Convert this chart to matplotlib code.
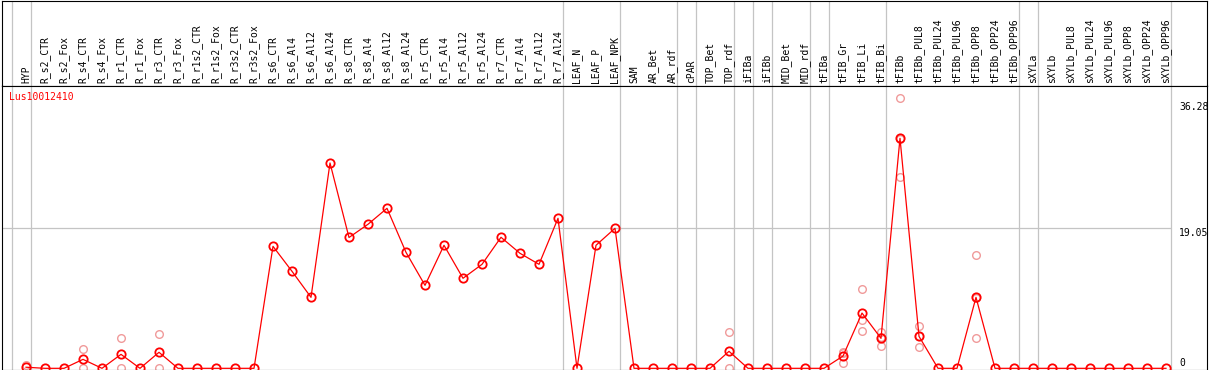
import matplotlib
matplotlib.use("Agg")
import matplotlib.pyplot as plt
import matplotlib.transforms as mtransforms

# ---- data ----
labels = [
    "HYP", "R_s2_CTR", "R_s2_Fox", "R_s4_CTR", "R_s4_Fox", "R_r1_CTR", "R_r1_Fox",
    "R_r3_CTR", "R_r3_Fox", "R_r1s2_CTR", "R_r1s2_Fox", "R_r3s2_CTR", "R_r3s2_Fox",
    "R_s6_CTR", "R_s6_Al4", "R_s6_Al12", "R_s6_Al24",
    "R_s8_CTR", "R_s8_Al4", "R_s8_Al12", "R_s8_Al24",
    "R_r5_CTR", "R_r5_Al4", "R_r5_Al12", "R_r5_Al24",
    "R_r7_CTR", "R_r7_Al4", "R_r7_Al12", "R_r7_Al24",
    "LEAF_N", "LEAF_P", "LEAF_NPK", "SAM", "AR_Bet", "AR_rdf", "cPAR",
    "TOP_Bet", "TOP_rdf", "iFIBa", "iFIBb", "MID_Bet", "MID_rdf", "tFIBa",
    "tFIB_Gr", "tFIB_Li", "tFIB_Bi", "tFIBb",
    "tFIBb_PUL8", "tFIBb_PUL24", "tFIBb_PUL96", "tFIBb_OPP8", "tFIBb_OPP24", "tFIBb_OPP96",
    "sXYLa", "sXYLb",
    "sXYLb_PUL8", "sXYLb_PUL24", "sXYLb_PUL96", "sXYLb_OPP8", "sXYLb_OPP24", "sXYLb_OPP96",
]

means = [
    0.15, 0, 0, 1.22, 0, 1.9, 0, 2.18, 0, 0, 0, 0, 0,
    16.6, 13.2, 9.66, 27.94,
    17.8, 19.6, 21.77, 15.78,
    11.29, 16.74, 12.25, 14.15,
    17.83, 15.65, 14.15, 20.41,
    0, 16.74, 19.05, 0, 0, 0, 0,
    0, 2.31, 0, 0, 0, 0, 0,
    1.67, 7.52, 4.08, 31.3,
    4.35, 0, 0, 9.66, 0, 0,
    0, 0,
    0, 0, 0, 0, 0, 0,
]

# replicate points (light red), by label
rep_labels = [
    "HYP",
    "R_s4_CTR", "R_s4_CTR",
    "R_r1_CTR", "R_r1_CTR",
    "R_r3_CTR", "R_r3_CTR",
    "TOP_rdf", "TOP_rdf",
    "tFIB_Gr", "tFIB_Gr", "tFIB_Gr",
    "tFIB_Li", "tFIB_Li", "tFIB_Li",
    "tFIB_Bi", "tFIB_Bi", "tFIB_Bi",
    "tFIBb", "tFIBb", "tFIBb",
    "tFIBb_PUL8", "tFIBb_PUL8", "tFIBb_PUL8",
    "tFIBb_OPP8", "tFIBb_OPP8", "tFIBb_OPP8",
]
rep_values = [
    0.45,
    2.59, 0,
    4.08, 0,
    4.63, 0,
    4.9, 0,
    2.26, 0.68, 2.07,
    10.75, 6.53, 5.08,
    4.98, 3.03, 4.23,
    36.74, 25.99, 31.17,
    5.71, 2.9, 4.44,
    15.38, 4.08, 9.52,
]

# group borders: a gray line after these labels (first one is before HYP)
group_ends = [None, "HYP", "R_r7_Al24", "LEAF_NPK", "AR_rdf", "cPAR", "TOP_rdf",
              "iFIBa", "iFIBb", "MID_rdf", "tFIBa", "tFIB_Bi", "tFIBb_OPP96",
              "sXYLa", "sXYLb_OPP96"]

gene = "Lus10012410"
y_marks = [36.28, 19.05, 0]
grid_value = 19.05

# ---- layout (pixels) ----
W, H = 1209, 370
FONT = "DejaVu Sans Mono"
x = list(range(len(labels)))
idx = {lab: i for i, lab in enumerate(labels)}
sep_x = [(idx[g] if g else -1) + 0.24 for g in group_ends]

fig = plt.figure(figsize=(W / 100, H / 100), dpi=100)
ax_lab = fig.add_axes([1.5 / W, 284.5 / H, 1205.5 / W, 85 / H])
ax = fig.add_axes([1.5 / W, 0.5 / H, 1205.5 / W, 284 / H], sharex=ax_lab)

xlim = ((1.5 - 26) / 19, (1207 - 26) / 19)
ax.set_xlim(*xlim)
ax.set_ylim(-0.16, 38.48)
ax_lab.set_ylim(0, 1)

for a in (ax, ax_lab):
    a.set_xticks([])
    a.set_yticks([])
    for s in a.spines.values():
        s.set_linewidth(0.8)
        s.set_color("black")
    for sx in sep_x:
        a.axvline(sx, color="#c4c4c4", lw=0.9, zorder=0)

# column labels
tr = mtransforms.blended_transform_factory(ax_lab.transData, ax_lab.transAxes)
for i, lab in zip(x, labels):
    ax_lab.text(i, 0.03, lab, rotation=90, ha="center", va="bottom",
                fontsize=7, family=FONT, transform=tr)

# horizontal grid line at 19.05
ax.hlines(grid_value, xlim[0], sep_x[-1], color="#c4c4c4", lw=0.9, zorder=0)

# replicates
ax.plot([idx[l] for l in rep_labels], rep_values, linestyle="none", marker="o",
        ms=5.5, mfc="none", mec="#f09a9a", mew=1.0, zorder=2, clip_on=False)

# means
ax.plot(x, means, color="red", lw=0.9, marker="o", ms=6, mfc="none",
        mec="red", mew=1.3, zorder=3, clip_on=False)

# value labels on the right
for v in y_marks:
    if v == 0:
        ax.text(sep_x[-1] + 0.45, 0.3, "0", ha="left", va="baseline",
                fontsize=7, family=FONT, clip_on=True)
    else:
        ax.text(sep_x[-1] + 0.45, v, f"{v:.2f}", ha="left", va="top",
                fontsize=7, family=FONT, clip_on=True)

ax.text(0.0066, 0.958, gene, color="red", ha="left", va="center",
        fontsize=7, family=FONT, transform=ax.transAxes)

fig.savefig("out.png", dpi=100)
plt.close(fig)
